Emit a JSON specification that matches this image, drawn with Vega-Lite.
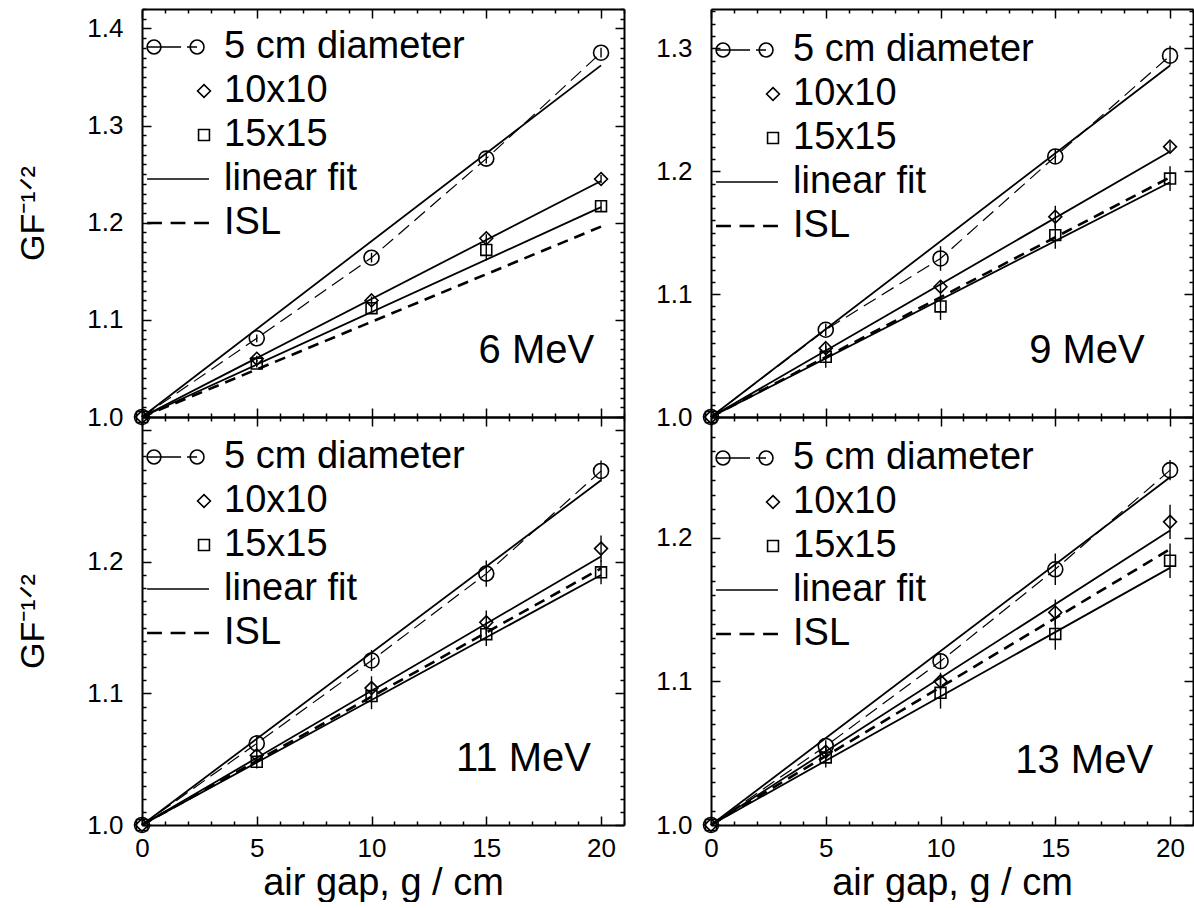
{
  "$schema": "https://vega.github.io/schema/vega-lite/v6.json",
  "background": "white",
  "padding": {"left": 16, "top": 8, "right": 0, "bottom": 0},
  "config": {
    "font": "Liberation Sans",
    "view": {"stroke": null},
    "axis": {"domainColor": "black", "domainWidth": 2, "tickColor": "black", "tickWidth": 1.5, "labelColor": "black", "labelFont": "Liberation Sans", "titleColor": "black", "titleFont": "Liberation Sans", "titleFontWeight": "normal", "grid": false, "labelOverlap": false, "labelFlush": false, "labelBound": false},
    "legend": {"labelFont": "Liberation Sans", "labelFontSize": 38, "labelColor": "black", "labelLimit": 400, "symbolSize": 1089, "symbolStrokeWidth": 1.6, "rowPadding": 6, "labelOffset": 1, "padding": 0}
  },
  "datasets": {
    "pts": [
      {"p": "6 MeV", "s": "5 cm diameter", "g": 0, "v": 1.0, "e": 0},
      {"p": "6 MeV", "s": "5 cm diameter", "g": 5, "v": 1.081, "e": 0.004},
      {"p": "6 MeV", "s": "5 cm diameter", "g": 10, "v": 1.164, "e": 0.005},
      {"p": "6 MeV", "s": "5 cm diameter", "g": 15, "v": 1.266, "e": 0.005},
      {"p": "6 MeV", "s": "5 cm diameter", "g": 20, "v": 1.375, "e": 0.005},
      {"p": "6 MeV", "s": "10x10", "g": 0, "v": 1.0, "e": 0},
      {"p": "6 MeV", "s": "10x10", "g": 5, "v": 1.060, "e": 0.003},
      {"p": "6 MeV", "s": "10x10", "g": 10, "v": 1.120, "e": 0.004},
      {"p": "6 MeV", "s": "10x10", "g": 15, "v": 1.184, "e": 0.004},
      {"p": "6 MeV", "s": "10x10", "g": 20, "v": 1.245, "e": 0.004},
      {"p": "6 MeV", "s": "15x15", "g": 0, "v": 1.0, "e": 0},
      {"p": "6 MeV", "s": "15x15", "g": 5, "v": 1.055, "e": 0.004},
      {"p": "6 MeV", "s": "15x15", "g": 10, "v": 1.112, "e": 0.006},
      {"p": "6 MeV", "s": "15x15", "g": 15, "v": 1.172, "e": 0.011},
      {"p": "6 MeV", "s": "15x15", "g": 20, "v": 1.217, "e": 0.005},
      {"p": "9 MeV", "s": "5 cm diameter", "g": 0, "v": 1.0, "e": 0},
      {"p": "9 MeV", "s": "5 cm diameter", "g": 5, "v": 1.071, "e": 0.005},
      {"p": "9 MeV", "s": "5 cm diameter", "g": 10, "v": 1.129, "e": 0.010},
      {"p": "9 MeV", "s": "5 cm diameter", "g": 15, "v": 1.212, "e": 0.006},
      {"p": "9 MeV", "s": "5 cm diameter", "g": 20, "v": 1.294, "e": 0.008},
      {"p": "9 MeV", "s": "10x10", "g": 0, "v": 1.0, "e": 0},
      {"p": "9 MeV", "s": "10x10", "g": 5, "v": 1.056, "e": 0.004},
      {"p": "9 MeV", "s": "10x10", "g": 10, "v": 1.106, "e": 0.005},
      {"p": "9 MeV", "s": "10x10", "g": 15, "v": 1.163, "e": 0.009},
      {"p": "9 MeV", "s": "10x10", "g": 20, "v": 1.220, "e": 0.004},
      {"p": "9 MeV", "s": "15x15", "g": 0, "v": 1.0, "e": 0},
      {"p": "9 MeV", "s": "15x15", "g": 5, "v": 1.049, "e": 0.009},
      {"p": "9 MeV", "s": "15x15", "g": 10, "v": 1.090, "e": 0.011},
      {"p": "9 MeV", "s": "15x15", "g": 15, "v": 1.148, "e": 0.011},
      {"p": "9 MeV", "s": "15x15", "g": 20, "v": 1.194, "e": 0.010},
      {"p": "11 MeV", "s": "5 cm diameter", "g": 0, "v": 1.0, "e": 0},
      {"p": "11 MeV", "s": "5 cm diameter", "g": 5, "v": 1.062, "e": 0.005},
      {"p": "11 MeV", "s": "5 cm diameter", "g": 10, "v": 1.125, "e": 0.008},
      {"p": "11 MeV", "s": "5 cm diameter", "g": 15, "v": 1.191, "e": 0.010},
      {"p": "11 MeV", "s": "5 cm diameter", "g": 20, "v": 1.269, "e": 0.008},
      {"p": "11 MeV", "s": "10x10", "g": 0, "v": 1.0, "e": 0},
      {"p": "11 MeV", "s": "10x10", "g": 5, "v": 1.053, "e": 0.004},
      {"p": "11 MeV", "s": "10x10", "g": 10, "v": 1.104, "e": 0.009},
      {"p": "11 MeV", "s": "10x10", "g": 15, "v": 1.154, "e": 0.009},
      {"p": "11 MeV", "s": "10x10", "g": 20, "v": 1.210, "e": 0.010},
      {"p": "11 MeV", "s": "15x15", "g": 0, "v": 1.0, "e": 0},
      {"p": "11 MeV", "s": "15x15", "g": 5, "v": 1.048, "e": 0.005},
      {"p": "11 MeV", "s": "15x15", "g": 10, "v": 1.098, "e": 0.010},
      {"p": "11 MeV", "s": "15x15", "g": 15, "v": 1.145, "e": 0.009},
      {"p": "11 MeV", "s": "15x15", "g": 20, "v": 1.192, "e": 0.009},
      {"p": "13 MeV", "s": "5 cm diameter", "g": 0, "v": 1.0, "e": 0},
      {"p": "13 MeV", "s": "5 cm diameter", "g": 5, "v": 1.055, "e": 0.004},
      {"p": "13 MeV", "s": "5 cm diameter", "g": 10, "v": 1.114, "e": 0.005},
      {"p": "13 MeV", "s": "5 cm diameter", "g": 15, "v": 1.178, "e": 0.011},
      {"p": "13 MeV", "s": "5 cm diameter", "g": 20, "v": 1.247, "e": 0.007},
      {"p": "13 MeV", "s": "10x10", "g": 0, "v": 1.0, "e": 0},
      {"p": "13 MeV", "s": "10x10", "g": 5, "v": 1.051, "e": 0.004},
      {"p": "13 MeV", "s": "10x10", "g": 10, "v": 1.100, "e": 0.006},
      {"p": "13 MeV", "s": "10x10", "g": 15, "v": 1.148, "e": 0.009},
      {"p": "13 MeV", "s": "10x10", "g": 20, "v": 1.211, "e": 0.012},
      {"p": "13 MeV", "s": "15x15", "g": 0, "v": 1.0, "e": 0},
      {"p": "13 MeV", "s": "15x15", "g": 5, "v": 1.047, "e": 0.007},
      {"p": "13 MeV", "s": "15x15", "g": 10, "v": 1.092, "e": 0.011},
      {"p": "13 MeV", "s": "15x15", "g": 15, "v": 1.133, "e": 0.011},
      {"p": "13 MeV", "s": "15x15", "g": 20, "v": 1.184, "e": 0.012}
    ],
    "fits": [
      {"p": "6 MeV", "s": "5 cm diameter", "g": 0, "v": 1.0}, {"p": "6 MeV", "s": "5 cm diameter", "g": 20, "v": 1.362},
      {"p": "6 MeV", "s": "10x10", "g": 0, "v": 1.0}, {"p": "6 MeV", "s": "10x10", "g": 20, "v": 1.243},
      {"p": "6 MeV", "s": "15x15", "g": 0, "v": 1.0}, {"p": "6 MeV", "s": "15x15", "g": 20, "v": 1.216},
      {"p": "6 MeV", "s": "ISL", "g": 0, "v": 1.0}, {"p": "6 MeV", "s": "ISL", "g": 20, "v": 1.196},
      {"p": "9 MeV", "s": "5 cm diameter", "g": 0, "v": 1.0}, {"p": "9 MeV", "s": "5 cm diameter", "g": 20, "v": 1.286},
      {"p": "9 MeV", "s": "10x10", "g": 0, "v": 1.0}, {"p": "9 MeV", "s": "10x10", "g": 20, "v": 1.216},
      {"p": "9 MeV", "s": "15x15", "g": 0, "v": 1.0}, {"p": "9 MeV", "s": "15x15", "g": 20, "v": 1.191},
      {"p": "9 MeV", "s": "ISL", "g": 0, "v": 1.0}, {"p": "9 MeV", "s": "ISL", "g": 20, "v": 1.195},
      {"p": "11 MeV", "s": "5 cm diameter", "g": 0, "v": 1.0}, {"p": "11 MeV", "s": "5 cm diameter", "g": 20, "v": 1.262},
      {"p": "11 MeV", "s": "10x10", "g": 0, "v": 1.0}, {"p": "11 MeV", "s": "10x10", "g": 20, "v": 1.204},
      {"p": "11 MeV", "s": "15x15", "g": 0, "v": 1.0}, {"p": "11 MeV", "s": "15x15", "g": 20, "v": 1.190},
      {"p": "11 MeV", "s": "ISL", "g": 0, "v": 1.0}, {"p": "11 MeV", "s": "ISL", "g": 20, "v": 1.195},
      {"p": "13 MeV", "s": "5 cm diameter", "g": 0, "v": 1.0}, {"p": "13 MeV", "s": "5 cm diameter", "g": 20, "v": 1.242},
      {"p": "13 MeV", "s": "10x10", "g": 0, "v": 1.0}, {"p": "13 MeV", "s": "10x10", "g": 20, "v": 1.205},
      {"p": "13 MeV", "s": "15x15", "g": 0, "v": 1.0}, {"p": "13 MeV", "s": "15x15", "g": 20, "v": 1.179},
      {"p": "13 MeV", "s": "ISL", "g": 0, "v": 1.0}, {"p": "13 MeV", "s": "ISL", "g": 20, "v": 1.192}
    ],
    "panels": [{"p": "6 MeV"}, {"p": "9 MeV"}, {"p": "11 MeV"}, {"p": "13 MeV"}]
  },
  "columns": 2,
  "spacing": {"row": 0, "column": 87},
  "bounds": "flush",
  "resolve": {"scale": {"x": "independent", "y": "independent", "shape": "independent"}, "legend": {"shape": "independent"}},
  "concat": [
    {
      "width": 482, "height": 408,
      "resolve": {"axis": {"x": "independent", "y": "independent"}},
      "layer": [
        {"data": {"name": "fits"}, "transform": [{"filter": "datum.p === '6 MeV' && datum.s === 'ISL'"}],
         "mark": {"type": "line", "color": "black", "strokeWidth": 2.6, "strokeDash": [11, 7]},
         "encoding": {"x": {"field": "g", "type": "quantitative", "scale": {"domain": [0, 21], "nice": false}, "axis": null},
                      "y": {"field": "v", "type": "quantitative", "scale": {"domain": [1, 1.42], "nice": false, "zero": false}, "axis": null}}},
        {"data": {"name": "fits"}, "transform": [{"filter": "datum.p === '6 MeV' && datum.s !== 'ISL'"}],
         "mark": {"type": "line", "color": "black", "strokeWidth": 1.8},
         "encoding": {"x": {"field": "g", "type": "quantitative", "scale": {"domain": [0, 21], "nice": false}, "axis": {"orient": "top", "tickCount": 21, "labels": false, "title": null, "tickSize": {"condition": {"test": "datum.value % 5 === 0", "value": -9}, "value": -4}}},
                      "y": {"field": "v", "type": "quantitative", "scale": {"domain": [1, 1.42], "nice": false, "zero": false}, "axis": {"orient": "right", "tickCount": 42, "labels": false, "title": null, "tickSize": {"condition": {"test": "round(datum.value*100) % 10 === 0", "value": -9}, "value": -4}}},
                      "detail": {"field": "s"}}},
        {"data": {"name": "pts"}, "transform": [{"filter": "datum.p === '6 MeV' && datum.s === '5 cm diameter'"}],
         "mark": {"type": "line", "color": "black", "strokeWidth": 1.2, "strokeDash": [14, 7]},
         "encoding": {"x": {"field": "g", "type": "quantitative", "scale": {"domain": [0, 21], "nice": false}, "axis": null},
                      "y": {"field": "v", "type": "quantitative", "scale": {"domain": [1, 1.42], "nice": false, "zero": false}, "axis": null}}},
        {"data": {"name": "pts"}, "transform": [{"filter": "datum.p === '6 MeV' && datum.e > 0"}],
         "mark": {"type": "errorbar", "color": "black", "thickness": 1.4},
         "encoding": {"x": {"field": "g", "type": "quantitative", "scale": {"domain": [0, 21], "nice": false}, "axis": null},
                      "y": {"field": "v", "type": "quantitative", "scale": {"domain": [1, 1.42], "nice": false, "zero": false}, "axis": null},
                      "yError": {"field": "e"}}},
        {"data": {"name": "pts"}, "transform": [{"filter": "datum.p === '6 MeV' && datum.s === '5 cm diameter'"}],
         "mark": {"type": "point", "shape": "circle", "size": 225, "filled": false, "color": "black", "strokeWidth": 1.6, "opacity": 1},
         "encoding": {"x": {"field": "g", "type": "quantitative", "scale": {"domain": [0, 21], "nice": false}, "axis": null},
                      "y": {"field": "v", "type": "quantitative", "scale": {"domain": [1, 1.42], "nice": false, "zero": false}, "axis": null}}},
        {"data": {"name": "pts"}, "transform": [{"filter": "datum.p === '6 MeV' && datum.s !== '5 cm diameter'"}],
         "mark": {"type": "point", "size": 1089, "filled": false, "color": "black", "strokeWidth": 1.6, "opacity": 1},
         "encoding": {"x": {"field": "g", "type": "quantitative", "scale": {"domain": [0, 21], "nice": false}, "axis": {"orient": "bottom", "tickCount": 21, "labels": false, "title": null, "tickSize": {"condition": {"test": "datum.value % 5 === 0", "value": -9}, "value": -4}}},
                      "y": {"field": "v", "type": "quantitative", "scale": {"domain": [1, 1.42], "nice": false, "zero": false}, "axis": {"orient": "left", "tickCount": 42, "tickSize": {"condition": {"test": "round(datum.value*100) % 10 === 0", "value": -9}, "value": -4}, "labelFontSize": {"condition": {"test": "round(datum.value*100) % 10 === 0", "value": 26}, "value": 1}, "labelExpr": "round(datum.value*100) % 10 === 0 ? format(datum.value, '.1f') : ''", "labelPadding": 28, "title": "GF⁻¹ᐟ²", "titleFontSize": 34, "titlePadding": 36}},
                      "shape": {"field": "s", "type": "nominal", "scale": {"domain": ["5 cm diameter", "10x10", "15x15", "linear fit", "ISL"], "range": ["M-3.45,0A0.42,0.42,0,1,0,-2.61,0A0.42,0.42,0,1,0,-3.45,0ZM-0.84,0A0.42,0.42,0,1,0,0,0A0.42,0.42,0,1,0,-0.84,0ZM-3.45,0H-1.39M-1.03,0H-0.42", "M0,-0.39L0.39,0L0,0.39L-0.39,0Z", "M-0.33,-0.33H0.33V0.33H-0.33Z", "M-3.45,0H0.3", "M-3.45,-0.03H-2.55M-3.45,0.03H-2.55M-2.025,-0.03H-1.125M-2.025,0.03H-1.125M-0.6,-0.03H0.3M-0.6,0.03H0.3"]},
                                "legend": {"title": null, "orient": "none", "legendX": 43, "legendY": 19}}}},
        {"data": {"name": "panels"}, "transform": [{"filter": "datum.p === '6 MeV'"}],
         "mark": {"type": "text", "align": "right", "baseline": "alphabetic", "fontSize": 40, "font": "Liberation Sans", "color": "black"},
         "encoding": {"text": {"field": "p"}, "x": {"datum": 19.7, "type": "quantitative", "axis": null}, "y": {"datum": 1.0556, "type": "quantitative", "axis": null}}}
      ]
    },
    {
      "width": 482, "height": 408,
      "resolve": {"axis": {"x": "independent", "y": "independent"}},
      "layer": [
        {"data": {"name": "fits"}, "transform": [{"filter": "datum.p === '9 MeV' && datum.s === 'ISL'"}],
         "mark": {"type": "line", "color": "black", "strokeWidth": 2.6, "strokeDash": [11, 7]},
         "encoding": {"x": {"field": "g", "type": "quantitative", "scale": {"domain": [0, 21], "nice": false}, "axis": null},
                      "y": {"field": "v", "type": "quantitative", "scale": {"domain": [1, 1.332], "nice": false, "zero": false}, "axis": null}}},
        {"data": {"name": "fits"}, "transform": [{"filter": "datum.p === '9 MeV' && datum.s !== 'ISL'"}],
         "mark": {"type": "line", "color": "black", "strokeWidth": 1.8},
         "encoding": {"x": {"field": "g", "type": "quantitative", "scale": {"domain": [0, 21], "nice": false}, "axis": {"orient": "top", "tickCount": 21, "labels": false, "title": null, "tickSize": {"condition": {"test": "datum.value % 5 === 0", "value": -9}, "value": -4}}},
                      "y": {"field": "v", "type": "quantitative", "scale": {"domain": [1, 1.332], "nice": false, "zero": false}, "axis": {"orient": "right", "tickCount": 33, "labels": false, "title": null, "tickSize": {"condition": {"test": "round(datum.value*100) % 10 === 0", "value": -9}, "value": -4}}},
                      "detail": {"field": "s"}}},
        {"data": {"name": "pts"}, "transform": [{"filter": "datum.p === '9 MeV' && datum.s === '5 cm diameter'"}],
         "mark": {"type": "line", "color": "black", "strokeWidth": 1.2, "strokeDash": [14, 7]},
         "encoding": {"x": {"field": "g", "type": "quantitative", "scale": {"domain": [0, 21], "nice": false}, "axis": null},
                      "y": {"field": "v", "type": "quantitative", "scale": {"domain": [1, 1.332], "nice": false, "zero": false}, "axis": null}}},
        {"data": {"name": "pts"}, "transform": [{"filter": "datum.p === '9 MeV' && datum.e > 0"}],
         "mark": {"type": "errorbar", "color": "black", "thickness": 1.4},
         "encoding": {"x": {"field": "g", "type": "quantitative", "scale": {"domain": [0, 21], "nice": false}, "axis": null},
                      "y": {"field": "v", "type": "quantitative", "scale": {"domain": [1, 1.332], "nice": false, "zero": false}, "axis": null},
                      "yError": {"field": "e"}}},
        {"data": {"name": "pts"}, "transform": [{"filter": "datum.p === '9 MeV' && datum.s === '5 cm diameter'"}],
         "mark": {"type": "point", "shape": "circle", "size": 225, "filled": false, "color": "black", "strokeWidth": 1.6, "opacity": 1},
         "encoding": {"x": {"field": "g", "type": "quantitative", "scale": {"domain": [0, 21], "nice": false}, "axis": null},
                      "y": {"field": "v", "type": "quantitative", "scale": {"domain": [1, 1.332], "nice": false, "zero": false}, "axis": null}}},
        {"data": {"name": "pts"}, "transform": [{"filter": "datum.p === '9 MeV' && datum.s !== '5 cm diameter'"}],
         "mark": {"type": "point", "size": 1089, "filled": false, "color": "black", "strokeWidth": 1.6, "opacity": 1},
         "encoding": {"x": {"field": "g", "type": "quantitative", "scale": {"domain": [0, 21], "nice": false}, "axis": {"orient": "bottom", "tickCount": 21, "labels": false, "title": null, "tickSize": {"condition": {"test": "datum.value % 5 === 0", "value": -9}, "value": -4}}},
                      "y": {"field": "v", "type": "quantitative", "scale": {"domain": [1, 1.332], "nice": false, "zero": false}, "axis": {"orient": "left", "tickCount": 33, "tickSize": {"condition": {"test": "round(datum.value*100) % 10 === 0", "value": -9}, "value": -4}, "labelFontSize": {"condition": {"test": "round(datum.value*100) % 10 === 0", "value": 26}, "value": 1}, "labelExpr": "round(datum.value*100) % 10 === 0 ? format(datum.value, '.1f') : ''", "labelPadding": 28, "title": null}},
                      "shape": {"field": "s", "type": "nominal", "scale": {"domain": ["5 cm diameter", "10x10", "15x15", "linear fit", "ISL"], "range": ["M-3.45,0A0.42,0.42,0,1,0,-2.61,0A0.42,0.42,0,1,0,-3.45,0ZM-0.84,0A0.42,0.42,0,1,0,0,0A0.42,0.42,0,1,0,-0.84,0ZM-3.45,0H-1.39M-1.03,0H-0.42", "M0,-0.39L0.39,0L0,0.39L-0.39,0Z", "M-0.33,-0.33H0.33V0.33H-0.33Z", "M-3.45,0H0.3", "M-3.45,-0.03H-2.55M-3.45,0.03H-2.55M-2.025,-0.03H-1.125M-2.025,0.03H-1.125M-0.6,-0.03H0.3M-0.6,0.03H0.3"]},
                                "legend": {"title": null, "orient": "none", "legendX": 43, "legendY": 22}}}},
        {"data": {"name": "panels"}, "transform": [{"filter": "datum.p === '9 MeV'"}],
         "mark": {"type": "text", "align": "right", "baseline": "alphabetic", "fontSize": 40, "font": "Liberation Sans", "color": "black"},
         "encoding": {"text": {"field": "p"}, "x": {"datum": 18.9, "type": "quantitative", "axis": null}, "y": {"datum": 1.0437, "type": "quantitative", "axis": null}}}
      ]
    },
    {
      "width": 482, "height": 408,
      "resolve": {"axis": {"x": "independent", "y": "independent"}},
      "layer": [
        {"data": {"name": "fits"}, "transform": [{"filter": "datum.p === '11 MeV' && datum.s === 'ISL'"}],
         "mark": {"type": "line", "color": "black", "strokeWidth": 2.6, "strokeDash": [11, 7]},
         "encoding": {"x": {"field": "g", "type": "quantitative", "scale": {"domain": [0, 21], "nice": false}, "axis": null},
                      "y": {"field": "v", "type": "quantitative", "scale": {"domain": [1, 1.31], "nice": false, "zero": false}, "axis": null}}},
        {"data": {"name": "fits"}, "transform": [{"filter": "datum.p === '11 MeV' && datum.s !== 'ISL'"}],
         "mark": {"type": "line", "color": "black", "strokeWidth": 1.8},
         "encoding": {"x": {"field": "g", "type": "quantitative", "scale": {"domain": [0, 21], "nice": false}, "axis": {"orient": "top", "tickCount": 21, "labels": false, "title": null, "tickSize": {"condition": {"test": "datum.value % 5 === 0", "value": -9}, "value": -4}}},
                      "y": {"field": "v", "type": "quantitative", "scale": {"domain": [1, 1.31], "nice": false, "zero": false}, "axis": {"orient": "right", "tickCount": 31, "labels": false, "title": null, "tickSize": {"condition": {"test": "round(datum.value*100) % 10 === 0", "value": -9}, "value": -4}}},
                      "detail": {"field": "s"}}},
        {"data": {"name": "pts"}, "transform": [{"filter": "datum.p === '11 MeV' && datum.s === '5 cm diameter'"}],
         "mark": {"type": "line", "color": "black", "strokeWidth": 1.2, "strokeDash": [14, 7]},
         "encoding": {"x": {"field": "g", "type": "quantitative", "scale": {"domain": [0, 21], "nice": false}, "axis": null},
                      "y": {"field": "v", "type": "quantitative", "scale": {"domain": [1, 1.31], "nice": false, "zero": false}, "axis": null}}},
        {"data": {"name": "pts"}, "transform": [{"filter": "datum.p === '11 MeV' && datum.e > 0"}],
         "mark": {"type": "errorbar", "color": "black", "thickness": 1.4},
         "encoding": {"x": {"field": "g", "type": "quantitative", "scale": {"domain": [0, 21], "nice": false}, "axis": null},
                      "y": {"field": "v", "type": "quantitative", "scale": {"domain": [1, 1.31], "nice": false, "zero": false}, "axis": null},
                      "yError": {"field": "e"}}},
        {"data": {"name": "pts"}, "transform": [{"filter": "datum.p === '11 MeV' && datum.s === '5 cm diameter'"}],
         "mark": {"type": "point", "shape": "circle", "size": 225, "filled": false, "color": "black", "strokeWidth": 1.6, "opacity": 1},
         "encoding": {"x": {"field": "g", "type": "quantitative", "scale": {"domain": [0, 21], "nice": false}, "axis": null},
                      "y": {"field": "v", "type": "quantitative", "scale": {"domain": [1, 1.31], "nice": false, "zero": false}, "axis": null}}},
        {"data": {"name": "pts"}, "transform": [{"filter": "datum.p === '11 MeV' && datum.s !== '5 cm diameter'"}],
         "mark": {"type": "point", "size": 1089, "filled": false, "color": "black", "strokeWidth": 1.6, "opacity": 1},
         "encoding": {"x": {"field": "g", "type": "quantitative", "scale": {"domain": [0, 21], "nice": false}, "axis": {"orient": "bottom", "tickCount": 21, "title": "air gap, g / cm", "titleFontSize": 38, "titlePadding": 3, "labelPadding": 19, "labelFontSize": {"condition": {"test": "datum.value % 5 === 0", "value": 26}, "value": 1}, "labelExpr": "datum.value % 5 === 0 ? datum.label : ''", "tickSize": {"condition": {"test": "datum.value % 5 === 0", "value": -9}, "value": -4}}},
                      "y": {"field": "v", "type": "quantitative", "scale": {"domain": [1, 1.31], "nice": false, "zero": false}, "axis": {"orient": "left", "tickCount": 31, "tickSize": {"condition": {"test": "round(datum.value*100) % 10 === 0", "value": -9}, "value": -4}, "labelFontSize": {"condition": {"test": "round(datum.value*100) % 10 === 0", "value": 26}, "value": 1}, "labelExpr": "round(datum.value*100) % 10 === 0 && datum.value < 1.25 ? format(datum.value, '.1f') : ''", "labelPadding": 28, "title": "GF⁻¹ᐟ²", "titleFontSize": 34, "titlePadding": 36}},
                      "shape": {"field": "s", "type": "nominal", "scale": {"domain": ["5 cm diameter", "10x10", "15x15", "linear fit", "ISL"], "range": ["M-3.45,0A0.42,0.42,0,1,0,-2.61,0A0.42,0.42,0,1,0,-3.45,0ZM-0.84,0A0.42,0.42,0,1,0,0,0A0.42,0.42,0,1,0,-0.84,0ZM-3.45,0H-1.39M-1.03,0H-0.42", "M0,-0.39L0.39,0L0,0.39L-0.39,0Z", "M-0.33,-0.33H0.33V0.33H-0.33Z", "M-3.45,0H0.3", "M-3.45,-0.03H-2.55M-3.45,0.03H-2.55M-2.025,-0.03H-1.125M-2.025,0.03H-1.125M-0.6,-0.03H0.3M-0.6,0.03H0.3"]},
                                "legend": {"title": null, "orient": "none", "legendX": 43, "legendY": 21}}}},
        {"data": {"name": "panels"}, "transform": [{"filter": "datum.p === '11 MeV'"}],
         "mark": {"type": "text", "align": "right", "baseline": "alphabetic", "fontSize": 40, "font": "Liberation Sans", "color": "black"},
         "encoding": {"text": {"field": "p"}, "x": {"datum": 19.56, "type": "quantitative", "axis": null}, "y": {"datum": 1.0407, "type": "quantitative", "axis": null}}}
      ]
    },
    {
      "width": 482, "height": 408,
      "resolve": {"axis": {"x": "independent", "y": "independent"}},
      "layer": [
        {"data": {"name": "fits"}, "transform": [{"filter": "datum.p === '13 MeV' && datum.s === 'ISL'"}],
         "mark": {"type": "line", "color": "black", "strokeWidth": 2.6, "strokeDash": [11, 7]},
         "encoding": {"x": {"field": "g", "type": "quantitative", "scale": {"domain": [0, 21], "nice": false}, "axis": null},
                      "y": {"field": "v", "type": "quantitative", "scale": {"domain": [1, 1.284], "nice": false, "zero": false}, "axis": null}}},
        {"data": {"name": "fits"}, "transform": [{"filter": "datum.p === '13 MeV' && datum.s !== 'ISL'"}],
         "mark": {"type": "line", "color": "black", "strokeWidth": 1.8},
         "encoding": {"x": {"field": "g", "type": "quantitative", "scale": {"domain": [0, 21], "nice": false}, "axis": {"orient": "top", "tickCount": 21, "labels": false, "title": null, "tickSize": {"condition": {"test": "datum.value % 5 === 0", "value": -9}, "value": -4}}},
                      "y": {"field": "v", "type": "quantitative", "scale": {"domain": [1, 1.284], "nice": false, "zero": false}, "axis": {"orient": "right", "tickCount": 28, "labels": false, "title": null, "tickSize": {"condition": {"test": "round(datum.value*100) % 10 === 0", "value": -9}, "value": -4}}},
                      "detail": {"field": "s"}}},
        {"data": {"name": "pts"}, "transform": [{"filter": "datum.p === '13 MeV' && datum.s === '5 cm diameter'"}],
         "mark": {"type": "line", "color": "black", "strokeWidth": 1.2, "strokeDash": [14, 7]},
         "encoding": {"x": {"field": "g", "type": "quantitative", "scale": {"domain": [0, 21], "nice": false}, "axis": null},
                      "y": {"field": "v", "type": "quantitative", "scale": {"domain": [1, 1.284], "nice": false, "zero": false}, "axis": null}}},
        {"data": {"name": "pts"}, "transform": [{"filter": "datum.p === '13 MeV' && datum.e > 0"}],
         "mark": {"type": "errorbar", "color": "black", "thickness": 1.4},
         "encoding": {"x": {"field": "g", "type": "quantitative", "scale": {"domain": [0, 21], "nice": false}, "axis": null},
                      "y": {"field": "v", "type": "quantitative", "scale": {"domain": [1, 1.284], "nice": false, "zero": false}, "axis": null},
                      "yError": {"field": "e"}}},
        {"data": {"name": "pts"}, "transform": [{"filter": "datum.p === '13 MeV' && datum.s === '5 cm diameter'"}],
         "mark": {"type": "point", "shape": "circle", "size": 225, "filled": false, "color": "black", "strokeWidth": 1.6, "opacity": 1},
         "encoding": {"x": {"field": "g", "type": "quantitative", "scale": {"domain": [0, 21], "nice": false}, "axis": null},
                      "y": {"field": "v", "type": "quantitative", "scale": {"domain": [1, 1.284], "nice": false, "zero": false}, "axis": null}}},
        {"data": {"name": "pts"}, "transform": [{"filter": "datum.p === '13 MeV' && datum.s !== '5 cm diameter'"}],
         "mark": {"type": "point", "size": 1089, "filled": false, "color": "black", "strokeWidth": 1.6, "opacity": 1},
         "encoding": {"x": {"field": "g", "type": "quantitative", "scale": {"domain": [0, 21], "nice": false}, "axis": {"orient": "bottom", "tickCount": 21, "title": "air gap, g / cm", "titleFontSize": 38, "titlePadding": 3, "labelPadding": 19, "labelFontSize": {"condition": {"test": "datum.value % 5 === 0", "value": 26}, "value": 1}, "labelExpr": "datum.value % 5 === 0 ? datum.label : ''", "tickSize": {"condition": {"test": "datum.value % 5 === 0", "value": -9}, "value": -4}}},
                      "y": {"field": "v", "type": "quantitative", "scale": {"domain": [1, 1.284], "nice": false, "zero": false}, "axis": {"orient": "left", "tickCount": 28, "tickSize": {"condition": {"test": "round(datum.value*100) % 10 === 0", "value": -9}, "value": -4}, "labelFontSize": {"condition": {"test": "round(datum.value*100) % 10 === 0", "value": 26}, "value": 1}, "labelExpr": "round(datum.value*100) % 10 === 0 ? format(datum.value, '.1f') : ''", "labelPadding": 28, "title": null}},
                      "shape": {"field": "s", "type": "nominal", "scale": {"domain": ["5 cm diameter", "10x10", "15x15", "linear fit", "ISL"], "range": ["M-3.45,0A0.42,0.42,0,1,0,-2.61,0A0.42,0.42,0,1,0,-3.45,0ZM-0.84,0A0.42,0.42,0,1,0,0,0A0.42,0.42,0,1,0,-0.84,0ZM-3.45,0H-1.39M-1.03,0H-0.42", "M0,-0.39L0.39,0L0,0.39L-0.39,0Z", "M-0.33,-0.33H0.33V0.33H-0.33Z", "M-3.45,0H0.3", "M-3.45,-0.03H-2.55M-3.45,0.03H-2.55M-2.025,-0.03H-1.125M-2.025,0.03H-1.125M-0.6,-0.03H0.3M-0.6,0.03H0.3"]},
                                "legend": {"title": null, "orient": "none", "legendX": 43, "legendY": 22}}}},
        {"data": {"name": "panels"}, "transform": [{"filter": "datum.p === '13 MeV'"}],
         "mark": {"type": "text", "align": "right", "baseline": "alphabetic", "fontSize": 40, "font": "Liberation Sans", "color": "black"},
         "encoding": {"text": {"field": "p"}, "x": {"datum": 19.26, "type": "quantitative", "axis": null}, "y": {"datum": 1.036, "type": "quantitative", "axis": null}}}
      ]
    }
  ]
}
